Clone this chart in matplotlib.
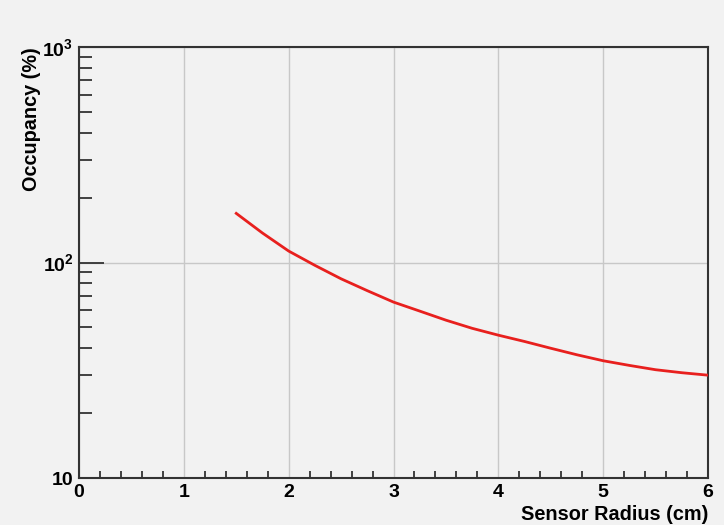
import math
import matplotlib.pyplot as plt
from matplotlib.ticker import FixedLocator, FuncFormatter, MultipleLocator, LogLocator, NullFormatter

plt.rcParams['font.family'] = ['Liberation Sans', 'DejaVu Sans']
plt.rcParams['font.weight'] = 'bold'
plt.rcParams['mathtext.fontset'] = 'custom'
plt.rcParams['mathtext.rm'] = 'Liberation Sans:bold'
plt.rcParams['mathtext.it'] = 'Liberation Sans:bold'
plt.rcParams['mathtext.bf'] = 'Liberation Sans:bold'

# occupancy vs sensor radius
radius = [1.5, 1.75, 2.0, 2.25, 2.5, 2.75, 3.0, 3.25, 3.5, 3.75, 4.0,
          4.25, 4.5, 4.75, 5.0, 5.25, 5.5, 5.75, 6.0]
occupancy = [169, 137, 113, 97, 84, 74, 65.5, 59.5, 54, 49.5, 46,
             43, 40, 37.3, 35, 33.3, 31.8, 30.8, 30]

bg = '#f2f2f2'
fig = plt.figure(figsize=(7.24, 5.25), dpi=100, facecolor=bg)
ax = fig.add_axes([0.1091, 0.0895, 0.8689, 0.821], facecolor=bg)

ax.plot(radius, occupancy, color='#e8201e', lw=2, zorder=3)

ax.set_xlim(0, 6)
ax.set_yscale('log')
ax.set_ylim(10, 1000)

ax.xaxis.set_major_locator(MultipleLocator(1))
ax.xaxis.set_minor_locator(MultipleLocator(0.2))
ax.yaxis.set_major_locator(FixedLocator([10, 100, 1000]))
ax.yaxis.set_minor_locator(LogLocator(base=10, subs=range(2, 10)))
ax.yaxis.set_minor_formatter(NullFormatter())


def ylab(v, pos):
    if v == 10:
        return '10'
    return r'$10^{%d}$' % round(math.log10(v))


ax.yaxis.set_major_formatter(FuncFormatter(ylab))

ax.grid(True, which='major', color='#c8c8c8', lw=1, zorder=0)
ax.set_axisbelow(True)

ax.tick_params(axis='x', which='major', direction='in', length=0, pad=4,
               labelsize=14)
ax.tick_params(axis='x', which='minor', direction='in', length=5, width=1.3,
               color='#333333')
ax.tick_params(axis='y', which='major', direction='in', length=18, width=1.3,
               color='#333333', pad=4, labelsize=14)
ax.tick_params(axis='y', which='minor', direction='in', length=9, width=1.3,
               color='#333333')

for s in ax.spines.values():
    s.set_color('#333333')
    s.set_linewidth(1.5)

ax.set_xlabel('Sensor Radius (cm)', loc='right', fontsize=14.3,
              fontweight='bold', labelpad=3)
ax.set_ylabel('Occupancy (%)', loc='top', fontsize=14.3,
              fontweight='bold', labelpad=1)

fig.savefig('out.png', dpi=100, facecolor=bg)
